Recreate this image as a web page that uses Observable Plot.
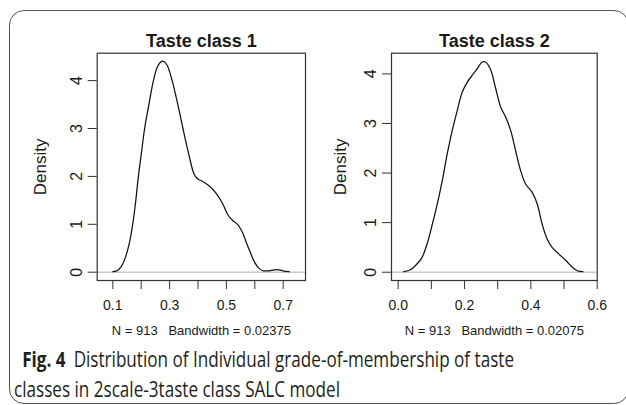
<!DOCTYPE html>
<html><head><meta charset="utf-8">
<script src="https://cdn.jsdelivr.net/npm/d3@7"></script>
<script src="https://cdn.jsdelivr.net/npm/@observablehq/plot@0.6"></script>
<style>
body{margin:0;background:#fff;}
#wrap{position:relative;width:626px;height:405px;overflow:hidden;background:#fff;}
#border{position:absolute;left:8.5px;top:10px;width:620px;height:394px;border:1.5px solid #555;border-radius:15px;box-sizing:border-box;}
.panel{position:absolute;top:0;}
#cap{position:absolute;left:14px;top:343.5px;font-family:"Open Sans","Noto Sans",sans-serif;font-size:21px;line-height:30px;color:#231f20;white-space:nowrap;transform-origin:0 0;}
#cap b{font-weight:700;margin-right:10px;}
#l1{padding-left:10px;display:inline-block;}
</style></head>
<body><div id="wrap"><div id="border"></div><div id="p1" class="panel" style="left:0"></div><div id="p2" class="panel" style="left:313px"></div>
<div id="cap"><div id="l1"></div><div id="l2"></div></div></div>
<script>
const titles = ["Taste class 1", "Taste class 2"];
const xLabels = ["N = 913   Bandwidth = 0.02375", "N = 913   Bandwidth = 0.02075"];
const yLabel = "Density";
const yTicks = [0, 1, 2, 3, 4];
const x1Ticks = [0.1, 0.2, 0.3, 0.4, 0.5, 0.6, 0.7];
const x1TickLabels = [0.1, 0.3, 0.5, 0.7];
const x2Ticks = [0, 0.1, 0.2, 0.3, 0.4, 0.5, 0.6];
const x2TickLabels = [0, 0.2, 0.4, 0.6];

const class1X = [0.100,0.115,0.130,0.145,0.158,0.170,0.180,0.190,0.201,0.212,0.227,0.243,0.258,0.272,0.280,0.292,0.309,0.327,0.347,0.366,0.386,0.398,0.415,0.440,0.462,0.486,0.505,0.522,0.539,0.556,0.570,0.585,0.600,0.615,0.630,0.650,0.668,0.685,0.700,0.721];
const class1Y = [0.01,0.03,0.12,0.32,0.60,1.00,1.45,2.00,2.50,3.00,3.50,4.00,4.30,4.40,4.40,4.31,4.00,3.55,3.00,2.50,2.05,1.95,1.90,1.80,1.66,1.44,1.20,1.08,1.00,0.84,0.62,0.40,0.20,0.08,0.03,0.03,0.05,0.05,0.03,0.01];

const class2X = [0.017,0.037,0.057,0.072,0.087,0.103,0.118,0.133,0.148,0.163,0.178,0.193,0.208,0.223,0.238,0.253,0.263,0.278,0.293,0.309,0.324,0.339,0.354,0.369,0.384,0.404,0.419,0.434,0.449,0.464,0.484,0.505,0.525,0.540,0.557];
const class2Y = [0.01,0.05,0.17,0.30,0.57,0.97,1.38,1.85,2.39,2.86,3.26,3.63,3.83,3.97,4.10,4.24,4.24,4.10,3.73,3.33,3.13,2.86,2.45,2.05,1.78,1.61,1.38,0.97,0.67,0.50,0.37,0.24,0.10,0.03,0.01];

const captionBold = "Fig. 4";
const captionLine1 = "Distribution of Individual grade-of-membership of taste";
const captionLine2 = "classes in 2scale-3taste class SALC model";

function panel(o) {
  const data = o.xs.map((x, i) => ({x, y: o.ys[i]}));
  return Plot.plot({
    width: 313, height: 340,
    marginTop: 52.7, marginBottom: 60, marginLeft: o.marginLeft, marginRight: o.marginRight,
    style: {fontFamily: "'Liberation Sans', Arial, sans-serif", fontSize: "14px", color: "#1a1a1a", background: "transparent", overflow: "visible"},
    x: {domain: o.xDomain},
    y: {domain: o.yDomain},
    marks: [
      Plot.ruleY([0], {stroke: "#c8c8c8", strokeWidth: 1.5}),
      Plot.line(data, {x: "x", y: "y", stroke: "#111", strokeWidth: 1.25, curve: "catmull-rom"}),
      Plot.frame({stroke: "#333", strokeWidth: 1.2}),
      Plot.axisX({ticks: o.xTicks, tickSize: 9, tickFormat: () => "", label: null, stroke: "#333"}),
      Plot.axisX({ticks: o.xTickLabels, tickSize: 0, tickPadding: 20, tickFormat: d3.format(".1f"), fontSize: 14, label: null}),
      Plot.axisX({ticks: [], fontSize: 13, label: o.xLabel, labelAnchor: "center", labelOffset: 54, labelArrow: "none"}),
      Plot.axisY({ticks: yTicks, tickSize: 9, tickRotate: -90, tickPadding: o.yPad, tickFormat: d3.format("d"), fontSize: 16, stroke: "#333", label: null}),
      Plot.axisY({ticks: [], fontSize: 17, label: yLabel, labelAnchor: "center", labelOffset: o.yLabelOffset, labelArrow: "none"}),
      Plot.text([o.title], {frameAnchor: "top", dy: -19, fontWeight: "bold", fontSize: 18})
    ]
  });
}

document.getElementById("p1").append(panel({
  title: titles[0], xs: class1X, ys: class1Y, xDomain: [0.045, 0.7785], yDomain: [-0.173, 4.572],
  xTicks: x1Ticks, xTickLabels: x1TickLabels, xLabel: xLabels[0],
  marginLeft: 96.7, marginRight: 8, yPad: 6, yLabelOffset: 63.4
}));
document.getElementById("p2").append(panel({
  title: titles[1], xs: class2X, ys: class2Y, xDomain: [-0.0202, 0.600], yDomain: [-0.167, 4.417],
  xTicks: x2Ticks, xTickLabels: x2TickLabels, xLabel: xLabels[1],
  marginLeft: 78, marginRight: 29.3, yPad: 7, yLabelOffset: 57.7
}));

const l1 = document.getElementById("l1");
const b = document.createElement("b"); b.textContent = captionBold;
l1.append(b, document.createTextNode(captionLine1));
document.getElementById("l2").textContent = captionLine2;
const w1 = l1.getBoundingClientRect().width;
document.getElementById("cap").style.transform = `scaleX(${500 / w1})`;
</script></body></html>
